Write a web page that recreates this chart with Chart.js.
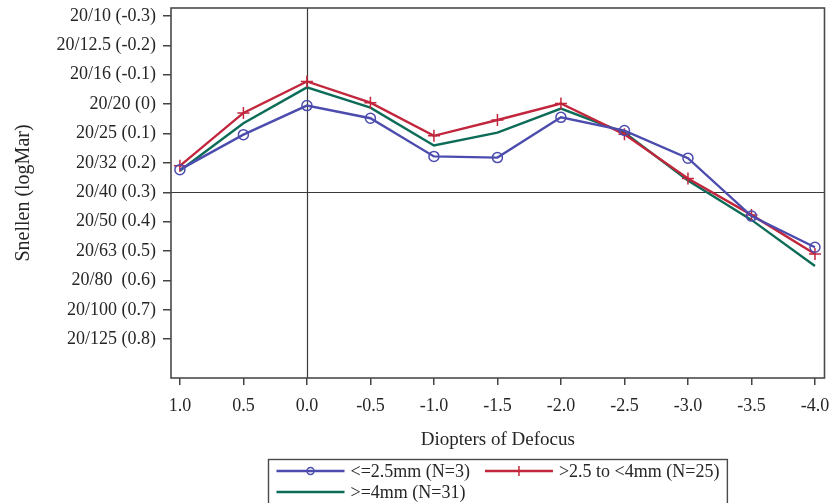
<!DOCTYPE html>
<html>
<head>
<meta charset="utf-8">
<script src="https://cdn.jsdelivr.net/npm/chart.js@4.4.0/dist/chart.umd.min.js"></script>
<style>
  html, body { margin: 0; padding: 0; background: #fff; }
  #wrap { width: 832px; height: 503px; position: relative; }
</style>
</head>
<body>
<div id="wrap"><canvas id="defocusChart"></canvas></div>
<script>
// Defocus curve data (logMAR)
const diopters = [1.0, 0.5, 0.0, -0.5, -1.0, -1.5, -2.0, -2.5, -3.0, -3.5, -4.0];
const pupilSmall = [0.223, 0.104, 0.005, 0.048, 0.178, 0.182, 0.045, 0.09, 0.184, 0.381, 0.487];
const pupilMid = [0.21, 0.03, -0.077, -0.005, 0.108, 0.054, -0.002, 0.103, 0.253, 0.377, 0.51];
const pupilLarge = [0.227, 0.065, -0.057, 0.012, 0.141, 0.097, 0.015, 0.097, 0.26, 0.394, 0.551];
const seriesLabels = ['<=2.5mm (N=3)', '>2.5 to <4mm (N=25)', '>=4mm (N=31)'];
const seriesColors = ['#4b4cae', '#c1263c', '#0d6c58'];

const xTicks = [1.0, 0.5, 0.0, -0.5, -1.0, -1.5, -2.0, -2.5, -3.0, -3.5, -4.0];
const yTicks = [-0.3, -0.2, -0.1, 0.0, 0.1, 0.2, 0.3, 0.4, 0.5, 0.6, 0.7, 0.8];
const yTickLabels = ['20/10 (-0.3)', '20/12.5 (-0.2)', '20/16 (-0.1)', '20/20 (0)', '20/25 (0.1)',
    '20/32 (0.2)', '20/40 (0.3)', '20/50 (0.4)', '20/63 (0.5)', '20/80  (0.6)', '20/100 (0.7)', '20/125 (0.8)'];
const refX = 0.0;
const refY = 0.3;

const serif = '"Liberation Serif", "Times New Roman", serif';
const textColor = '#262626';

const toPoints = (vals) => diopters.map((d, i) => ({ x: d, y: vals[i] }));

// frame + reference lines
const framePlugin = {
    id: 'frame',
    beforeDatasetsDraw(chart) {
        const { ctx, chartArea: a, scales } = chart;
        ctx.save();
        ctx.strokeStyle = '#3a3a3a';
        ctx.lineWidth = 1.2;
        const px = Math.round(scales.x.getPixelForValue(refX)) + 0.5;
        const py = Math.round(scales.y.getPixelForValue(refY)) + 0.5;
        ctx.beginPath();
        ctx.moveTo(px, a.top); ctx.lineTo(px, a.bottom);
        ctx.moveTo(a.left, py); ctx.lineTo(a.right, py);
        ctx.stroke();
        ctx.restore();
    },
    afterDatasetsDraw(chart) {
        const { ctx, chartArea: a } = chart;
        ctx.save();
        ctx.strokeStyle = '#4a4a4a';
        ctx.lineWidth = 1.6;
        ctx.strokeRect(a.left, a.top, a.right - a.left, a.bottom - a.top);
        ctx.restore();
    }
};

// boxed legend under the axis title, second row left aligned
const boxLegendPlugin = {
    id: 'boxLegend',
    afterDraw(chart) {
        const { ctx, chartArea: a } = chart;
        const ds = chart.data.datasets;
        ctx.save();
        ctx.font = '18px ' + serif;
        const lineLen = 68, gap = 6, itemGap = 15, pad = 8;
        const w = ds.map(d => ctx.measureText(d.label).width);
        const row1 = lineLen + gap + w[0] + itemGap + lineLen + gap + w[1];
        const boxW = row1 + pad * 2;
        const boxX = Math.round((a.left + a.right) / 2 - boxW / 2) + 0.5;
        const boxY = 459.5;
        ctx.strokeStyle = '#4a4a4a';
        ctx.lineWidth = 1.4;
        ctx.strokeRect(boxX, boxY, boxW, 60);

        const items = [
            { x: boxX + pad, y: 471 },
            { x: boxX + pad + lineLen + gap + w[0] + itemGap, y: 471 },
            { x: boxX + pad, y: 492 }
        ];
        ds.forEach((d, i) => {
            const it = items[i];
            ctx.strokeStyle = d.borderColor;
            ctx.lineWidth = 2.4;
            ctx.beginPath();
            ctx.moveTo(it.x, it.y); ctx.lineTo(it.x + lineLen, it.y);
            ctx.stroke();
            const cx = it.x + lineLen / 2;
            ctx.lineWidth = 1.5;
            if (d.pointStyle === 'circle' && d.pointRadius > 0) {
                ctx.beginPath();
                ctx.arc(cx, it.y, 3.5, 0, Math.PI * 2);
                ctx.stroke();
            } else if (d.pointStyle === 'cross' && d.pointRadius > 0) {
                ctx.beginPath();
                ctx.moveTo(cx, it.y - 5); ctx.lineTo(cx, it.y + 5);
                ctx.stroke();
            }
            ctx.fillStyle = textColor;
            ctx.textBaseline = 'middle';
            ctx.fillText(d.label, it.x + lineLen + gap, it.y + 1);
        });
        ctx.restore();
    }
};

const ctx = document.getElementById('defocusChart').getContext('2d');
const defocusChart = new Chart(ctx, {
    type: 'line',
    data: {
        datasets: [
            {
                label: seriesLabels[0],
                data: toPoints(pupilSmall),
                borderColor: seriesColors[0],
                borderWidth: 2.4,
                pointStyle: 'circle',
                pointRadius: 5,
                pointBorderWidth: 1.5,
                pointBackgroundColor: 'rgba(0,0,0,0)',
                pointBorderColor: seriesColors[0],
                tension: 0
            },
            {
                label: seriesLabels[1],
                data: toPoints(pupilMid),
                borderColor: seriesColors[1],
                borderWidth: 2.4,
                pointStyle: 'cross',
                pointRadius: 6,
                pointBorderWidth: 1.5,
                pointBorderColor: seriesColors[1],
                tension: 0
            },
            {
                label: seriesLabels[2],
                data: toPoints(pupilLarge),
                borderColor: seriesColors[2],
                borderWidth: 2.4,
                pointRadius: 0,
                tension: 0
            }
        ]
    },
    options: {
        responsive: true,
        maintainAspectRatio: false,
        animation: false,
        layout: { padding: { top: 8, right: 5, left: 0, bottom: 0 } },
        plugins: {
            legend: { display: false },
            tooltip: { enabled: false }
        },
        scales: {
            x: {
                type: 'linear',
                reverse: true,
                min: -4.075,
                max: 1.07,
                afterBuildTicks: (scale) => { scale.ticks = xTicks.map(v => ({ value: v })); },
                afterFit: (scale) => {
                    scale.height = 125;
                    scale.paddingLeft = 0;
                    scale.paddingRight = 0;
                },
                ticks: {
                    autoSkip: false,
                    maxRotation: 0,
                    padding: 10,
                    color: textColor,
                    font: { family: serif, size: 18 },
                    callback: (v) => Number(v).toFixed(1)
                },
                grid: { drawOnChartArea: false, drawTicks: true, tickLength: 7, color: '#444', lineWidth: 1.5 },
                border: { display: false },
                title: {
                    display: true,
                    text: 'Diopters of Defocus',
                    color: textColor,
                    font: { family: serif, size: 19 },
                    padding: { top: 10, bottom: 52 }
                }
            },
            y: {
                type: 'linear',
                reverse: true,
                min: -0.327,
                max: 0.932,
                afterBuildTicks: (scale) => { scale.ticks = yTicks.map(v => ({ value: v })); },
                afterFit: (scale) => {
                    scale.width = 171;
                    scale.paddingTop = 0;
                    scale.paddingBottom = 0;
                },
                ticks: {
                    autoSkip: false,
                    padding: 7,
                    color: textColor,
                    font: { family: serif, size: 18 },
                    callback: (v, i) => yTickLabels[i]
                },
                grid: { drawOnChartArea: false, drawTicks: true, tickLength: 8, color: '#444', lineWidth: 1.5 },
                border: { display: false },
                title: {
                    display: true,
                    text: 'Snellen (logMar)',
                    color: textColor,
                    font: { family: serif, size: 20 },
                    padding: { top: 12, bottom: 4 }
                }
            }
        }
    },
    plugins: [framePlugin, boxLegendPlugin]
});
</script>
</body>
</html>
